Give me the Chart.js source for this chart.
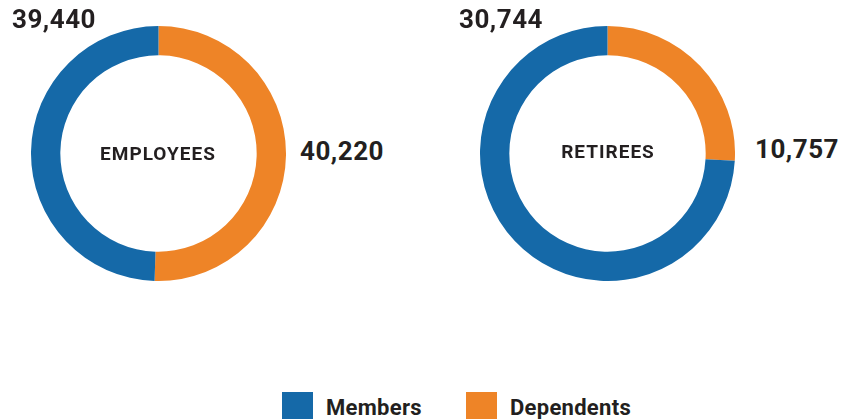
<!DOCTYPE html>
<html>
<head>
<meta charset="utf-8">
<script src="https://cdn.jsdelivr.net/npm/chart.js@4/dist/chart.umd.min.js"></script>
<style>
  html, body { margin: 0; padding: 0; background: #fff; }
  body { width: 844px; height: 419px; position: relative; overflow: hidden;
         font-family: Roboto, "Liberation Sans", sans-serif; color: #231f20; }
  .box { position: absolute; width: 255px; height: 255px; }
  .lbl { position: absolute; font-weight: 700; white-space: nowrap; line-height: 1; }
  .num { font-size: 26px; letter-spacing: 0.5px; }
  .mid { font-size: 19px; transform: translate(-50%, -50%); letter-spacing: 1px; }
  .legend { position: absolute; top: 392px; left: 282px; display: flex; align-items: flex-start; }
  .item { display: flex; align-items: flex-start; margin-right: 44px; }
  .sw { width: 31px; height: 27px; margin-right: 13px; }
  .item span { font-size: 22px; font-weight: 700; line-height: 1; margin-top: 5px; letter-spacing: 0.3px; }
</style>
</head>
<body>
<div class="box" style="left:31px; top:26px;"><canvas id="empChart"></canvas></div>
<div class="box" style="left:480px; top:26px;"><canvas id="retChart"></canvas></div>

<div class="lbl num" id="empMembers" style="left:12px; top:6px;"></div>
<div class="lbl num" id="empDependents" style="left:300px; top:138px;"></div>
<div class="lbl mid" id="empTitle" style="left:158px; top:153px;"></div>

<div class="lbl num" id="retMembers" style="left:459px; top:6px;"></div>
<div class="lbl num" id="retDependents" style="left:755px; top:136px;"></div>
<div class="lbl mid" id="retTitle" style="left:608px; top:151px;"></div>

<div class="legend" id="legend"></div>

<script>
const groups = ["EMPLOYEES", "RETIREES"];
const categories = ["Members", "Dependents"];
const members = [39440, 30744];
const dependents = [40220, 10757];
const colors = { Members: "#1569a8", Dependents: "#ee8427" };

const fmt = (n) => n.toLocaleString("en-US");

function drawDonut(canvasId, index) {
  const ctx = document.getElementById(canvasId).getContext("2d");
  // dependents go first so they start at 12 o'clock and run clockwise
  return new Chart(ctx, {
    type: "doughnut",
    data: {
      labels: ["Dependents", "Members"],
      datasets: [
        {
          data: [dependents[index], members[index]],
          backgroundColor: [colors.Dependents, colors.Members],
          borderWidth: 0,
        },
      ],
    },
    options: {
      responsive: true,
      maintainAspectRatio: false,
      animation: false,
      cutout: "77%",
      layout: { padding: 0 },
      plugins: {
        legend: { display: false },
        tooltip: { enabled: false },
      },
    },
  });
}

drawDonut("empChart", 0);
drawDonut("retChart", 1);

document.getElementById("empTitle").textContent = groups[0];
document.getElementById("retTitle").textContent = groups[1];
document.getElementById("empMembers").textContent = fmt(members[0]);
document.getElementById("empDependents").textContent = fmt(dependents[0]);
document.getElementById("retMembers").textContent = fmt(members[1]);
document.getElementById("retDependents").textContent = fmt(dependents[1]);

const legend = document.getElementById("legend");
categories.forEach((cat) => {
  const item = document.createElement("div");
  item.className = "item";
  const sw = document.createElement("div");
  sw.className = "sw";
  sw.style.backgroundColor = colors[cat];
  const txt = document.createElement("span");
  txt.textContent = cat;
  item.appendChild(sw);
  item.appendChild(txt);
  legend.appendChild(item);
});
</script>
</body>
</html>
